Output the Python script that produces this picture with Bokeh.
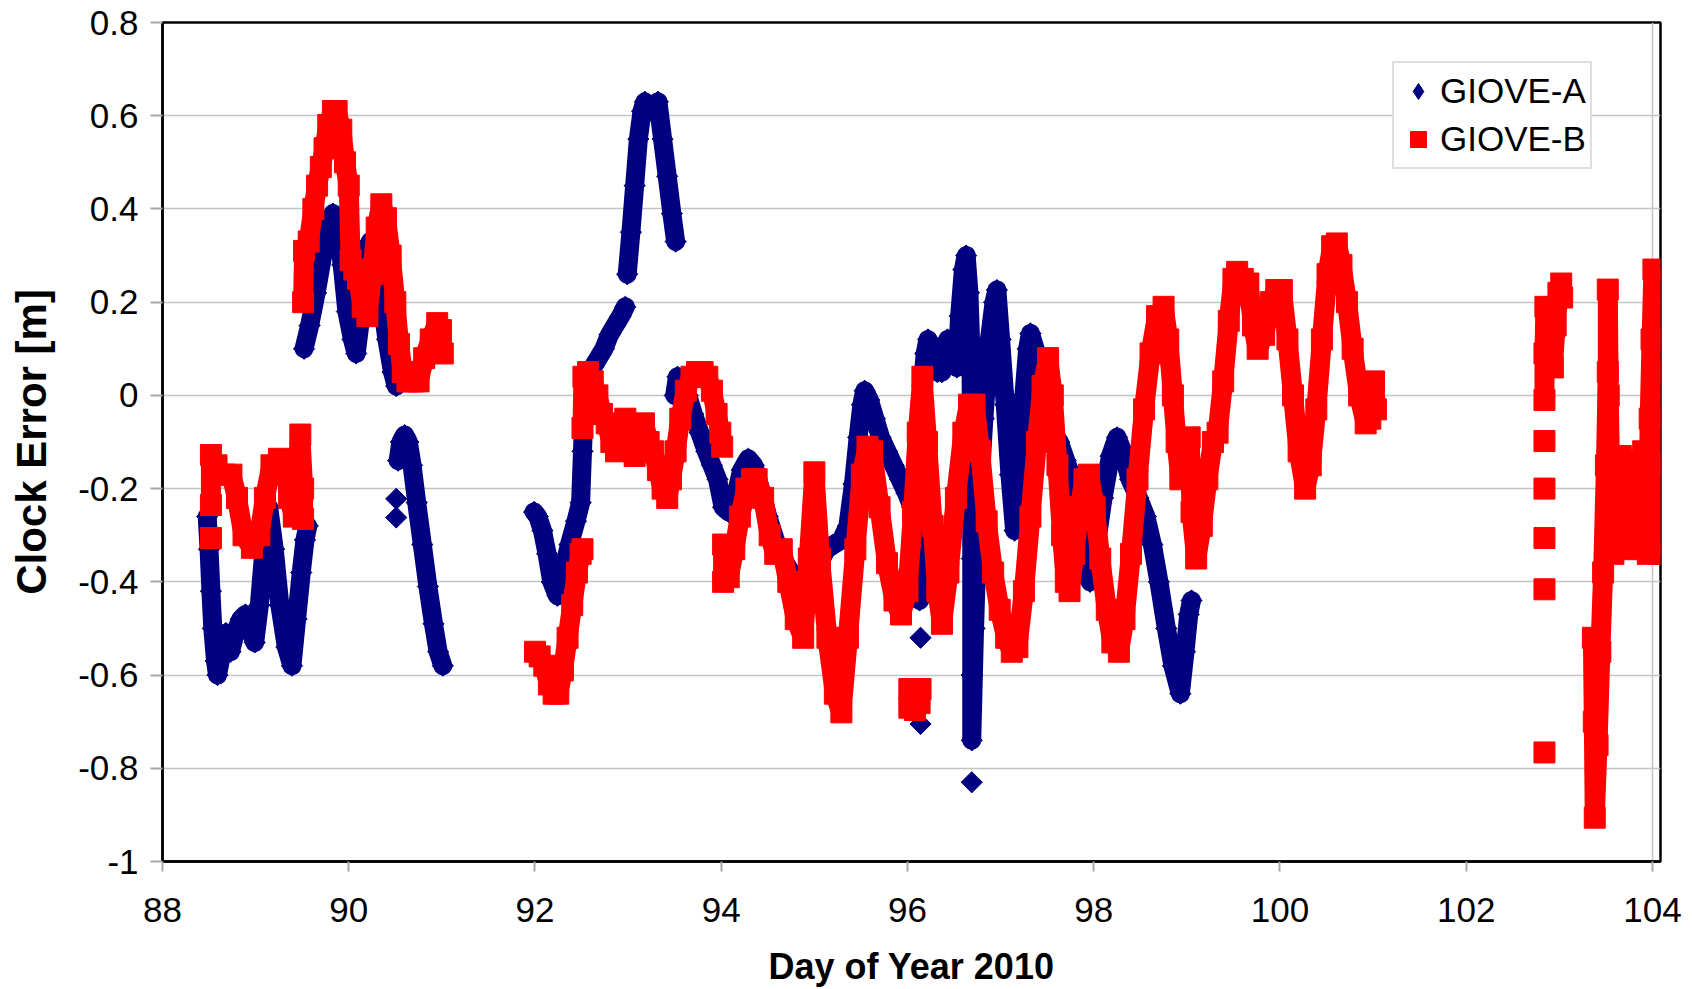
import numpy as np
from bokeh.plotting import figure
from bokeh.models import (ColumnDataSource, Range1d, FixedTicker, CustomJSTickFormatter,
                          Legend, LegendItem)
from bokeh.embed import file_html
from bokeh.resources import INLINE

FONT = "Liberation Sans"
NAVY = "#000080"
RED = "#ff0000"

# ---------------- axis ticks ----------------
X_TICKS = [88, 90, 92, 94, 96, 98, 100, 102, 104]
X_TICK_LABELS = ["88", "90", "92", "94", "96", "98", "100", "102", "104"]
Y_TICKS = [-1, -0.8, -0.6, -0.4, -0.2, 0, 0.2, 0.4, 0.6, 0.8]
Y_TICK_LABELS = ["-1", "-0.8", "-0.6", "-0.4", "-0.2", "0", "0.2", "0.4", "0.6", "0.8"]

# ---------------- GIOVE-A (day of year, clock error in m) ----------------
A1_DAY = [88.48, 88.50, 88.52, 88.54, 88.57, 88.59, 88.63, 88.68, 88.73, 88.78, 88.84, 88.89,
          88.94, 88.99, 89.04, 89.09, 89.14, 89.20, 89.26, 89.33, 89.39, 89.44, 89.49, 89.53, 89.56]
A1_ERR = [-0.26, -0.33, -0.42, -0.50, -0.57, -0.60, -0.56, -0.51, -0.55, -0.51, -0.48, -0.47,
          -0.50, -0.53, -0.45, -0.33, -0.24, -0.33, -0.45, -0.54, -0.58, -0.48, -0.38, -0.31, -0.28]

A2_DAY = [89.52, 89.58, 89.65, 89.72, 89.78, 89.83, 89.88, 89.93, 89.98, 90.04, 90.08, 90.13,
          90.18, 90.23, 90.29, 90.35, 90.41, 90.47, 90.51]
A2_ERR = [0.10, 0.15, 0.22, 0.30, 0.36, 0.39, 0.36, 0.28, 0.18, 0.12, 0.09, 0.17,
          0.30, 0.33, 0.29, 0.21, 0.12, 0.05, 0.02]

A3_DAY = [90.53, 90.56, 90.60, 90.64, 90.68, 90.73, 90.79, 90.85, 90.91, 90.96, 91.01]
A3_ERR = [-0.14, -0.10, -0.085, -0.10, -0.15, -0.23, -0.32, -0.41, -0.49, -0.55, -0.58]

A4_DAY = [91.99, 92.03, 92.08, 92.13, 92.18, 92.24, 92.30, 92.37, 92.44, 92.49, 92.51, 92.53,
          92.57, 92.62, 92.68, 92.74, 92.80, 92.86, 92.92, 92.97]
A4_ERR = [-0.25, -0.26, -0.29, -0.34, -0.40, -0.43, -0.38, -0.32, -0.27, -0.23, -0.12, -0.01,
          0.04, 0.06, 0.08, 0.10, 0.13, 0.15, 0.17, 0.19]

A5_DAY = [92.99, 93.03, 93.07, 93.11, 93.15, 93.18, 93.25, 93.32, 93.37, 93.42, 93.47, 93.51]
A5_ERR = [0.26, 0.35, 0.45, 0.55, 0.61, 0.63, 0.61, 0.63, 0.55, 0.47, 0.39, 0.33]

A6_DAY = [93.50, 93.53, 93.58, 93.64, 93.70, 93.77, 93.84, 93.90, 93.96, 94.02, 94.08, 94.15,
          94.22, 94.29, 94.35, 94.42, 94.50, 94.58, 94.66, 94.75, 94.83, 94.90, 94.97, 95.05,
          95.13, 95.21, 95.29, 95.36, 95.42, 95.47, 95.51, 95.54, 95.59, 95.65, 95.71, 95.78,
          95.85, 95.92, 95.99, 96.05, 96.09, 96.11, 96.13]
A6_ERR = [0.0, 0.04, 0.03, 0.0, -0.04, -0.08, -0.12, -0.15, -0.18, -0.24, -0.25, -0.22,
          -0.16, -0.136, -0.15, -0.20, -0.26, -0.31, -0.35, -0.38, -0.41, -0.42, -0.40, -0.36,
          -0.33, -0.32, -0.31, -0.28, -0.19, -0.09, -0.02, 0.01, -0.01, -0.05, -0.09, -0.12,
          -0.15, -0.18, -0.21, -0.24, -0.30, -0.37, -0.44]

A7_DAY = [96.13, 96.13, 96.14, 96.16, 96.19, 96.22, 96.27, 96.32, 96.37, 96.43, 96.48, 96.53,
          96.56, 96.60, 96.63, 96.66, 96.68, 96.69, 96.69, 96.69, 96.69, 96.72, 96.76, 96.82,
          96.88, 96.93, 96.96, 97.00, 97.05, 97.10, 97.15, 97.20, 97.25, 97.29, 97.32, 97.37,
          97.43, 97.49, 97.56, 97.63, 97.70, 97.77, 97.83, 97.90, 97.96, 98.02, 98.10, 98.18,
          98.25, 98.31, 98.39, 98.48, 98.56, 98.63, 98.70, 98.78, 98.85, 98.93, 98.98, 99.02, 99.05]
A7_ERR = [-0.40, -0.25, -0.10, 0.02, 0.09, 0.12, 0.10, 0.05, 0.05, 0.12, 0.09, 0.06,
          0.17, 0.27, 0.30, 0.22, 0.10, -0.10, -0.35, -0.60, -0.74, -0.50, -0.25, -0.05,
          0.12, 0.20, 0.226, 0.12, -0.02, -0.17, -0.29, -0.18, 0.0, 0.10, 0.133, 0.10,
          0.0, -0.06, -0.08, -0.10, -0.14, -0.18, -0.25, -0.35, -0.40, -0.33, -0.22, -0.13,
          -0.09, -0.12, -0.18, -0.22, -0.26, -0.32, -0.40, -0.50, -0.58, -0.64, -0.55, -0.47, -0.44]

A_SINGLE_DAY = [90.51, 90.51, 96.14, 96.14, 96.69]
A_SINGLE_ERR = [-0.222, -0.262, -0.52, -0.705, -0.83]

# ---------------- GIOVE-B ----------------
B1_DAY = [88.52, 88.52, 88.58, 88.66, 88.74, 88.80, 88.87, 88.96, 89.04, 89.10, 89.17, 89.25,
          89.32, 89.36, 89.41, 89.45, 89.48, 89.51, 89.51]
B1_ERR = [-0.235, -0.128, -0.15, -0.17, -0.17, -0.22, -0.30, -0.327, -0.30, -0.22, -0.15, -0.136,
          -0.14, -0.22, -0.26, -0.15, -0.084, -0.20, -0.265]

B2_DAY = [89.51, 89.52, 89.57, 89.62, 89.66, 89.70, 89.74, 89.78, 89.83, 89.87, 89.92, 89.96,
          90.00, 90.02, 90.06, 90.10, 90.15, 90.20, 90.25, 90.30, 90.35, 90.40, 90.45, 90.50,
          90.54, 90.58, 90.63, 90.69, 90.75, 90.81, 90.88, 90.95, 90.99, 91.01]
B2_ERR = [0.20, 0.31, 0.33, 0.40, 0.45, 0.49, 0.53, 0.58, 0.61, 0.61, 0.57, 0.50,
          0.45, 0.29, 0.27, 0.25, 0.19, 0.17, 0.26, 0.36, 0.41, 0.38, 0.30, 0.20,
          0.11, 0.05, 0.03, 0.03, 0.03, 0.08, 0.12, 0.155, 0.14, 0.09]

B3_DAY = [92.00, 92.05, 92.10, 92.15, 92.20, 92.25, 92.30, 92.35, 92.40, 92.45, 92.49, 92.51]
B3_ERR = [-0.55, -0.56, -0.58, -0.62, -0.64, -0.64, -0.59, -0.52, -0.45, -0.38, -0.34, -0.33]

B4_DAY = [92.51, 92.52, 92.57, 92.62, 92.67, 92.72, 92.77, 92.82, 92.87, 92.92, 92.97, 93.02,
          93.07, 93.12, 93.17, 93.22, 93.27, 93.32, 93.37, 93.42, 93.46, 93.51, 93.56, 93.62,
          93.68, 93.74, 93.80, 93.85, 93.90, 93.95, 93.99, 94.01]
B4_ERR = [-0.07, 0.04, 0.05, 0.03, 0.0, -0.04, -0.06, -0.10, -0.12, -0.08, -0.05, -0.09,
          -0.13, -0.09, -0.06, -0.10, -0.12, -0.16, -0.20, -0.22, -0.18, -0.12, -0.05, 0.01,
          0.04, 0.05, 0.05, 0.04, 0.01, -0.04, -0.08, -0.11]

B5_DAY = [94.02, 94.02, 94.08, 94.14, 94.20, 94.27, 94.33, 94.38, 94.45, 94.52, 94.58, 94.65,
          94.72, 94.80, 94.88, 94.94, 95.00, 95.06, 95.14, 95.22, 95.29, 95.36, 95.44, 95.51,
          95.57, 95.62, 95.70, 95.78, 95.86, 95.93, 96.00, 96.06, 96.11, 96.16, 96.21, 96.27,
          96.32, 96.37, 96.44, 96.52, 96.60, 96.66, 96.72, 96.78, 96.85, 96.92, 96.99, 97.06,
          97.12, 97.18, 97.25, 97.32, 97.39, 97.45, 97.51, 97.56, 97.61, 97.66, 97.70, 97.74,
          97.79, 97.85, 97.90, 97.95, 98.01, 98.07, 98.14, 98.20, 98.27, 98.33, 98.40, 98.47,
          98.54, 98.61, 98.68, 98.75, 98.80, 98.85, 98.89, 98.93, 98.98, 99.03, 99.05, 99.10,
          99.16, 99.22, 99.28, 99.33, 99.39, 99.45, 99.50, 99.54, 99.60, 99.66, 99.71, 99.76,
          99.83, 99.90, 99.96, 100.02, 100.08, 100.14, 100.20, 100.27, 100.33, 100.39, 100.45,
          100.51, 100.56, 100.61, 100.66, 100.72, 100.78, 100.85, 100.92, 100.97, 101.01, 101.03]
B5_ERR = [-0.32, -0.40, -0.39, -0.33, -0.26, -0.20, -0.18, -0.18, -0.22, -0.30, -0.34, -0.33,
          -0.40, -0.48, -0.52, -0.35, -0.165, -0.35, -0.52, -0.64, -0.68, -0.52, -0.33, -0.17,
          -0.11, -0.12, -0.24, -0.36, -0.44, -0.47, -0.42, -0.25, -0.08, 0.04, -0.10, -0.28,
          -0.42, -0.49, -0.38, -0.22, -0.08, -0.02, -0.02, -0.12, -0.27, -0.38, -0.46, -0.52,
          -0.55, -0.54, -0.42, -0.26, -0.10, 0.02, 0.08, 0.0, -0.15, -0.30, -0.40, -0.42,
          -0.34, -0.24, -0.18, -0.17, -0.24, -0.35, -0.46, -0.53, -0.55, -0.48, -0.34, -0.18,
          -0.03, 0.09, 0.17, 0.19, 0.12, 0.0, -0.10, -0.18, -0.12, -0.09, -0.25, -0.35,
          -0.28, -0.18, -0.10, -0.08, 0.03, 0.16, 0.25, 0.265, 0.25, 0.24, 0.15, 0.10,
          0.13, 0.20, 0.226, 0.226, 0.12, 0.0, -0.12, -0.20, -0.15, -0.03, 0.12,
          0.26, 0.32, 0.326, 0.28, 0.20, 0.10, 0.0, -0.06, -0.05, 0.03, -0.03]

B6_DAY = [96.02, 96.02, 96.08, 96.13, 96.14, 96.08]
B6_ERR = [-0.63, -0.67, -0.675, -0.66, -0.63, -0.63]

B7_DAY = [102.84, 102.84, 102.85, 102.89, 102.93, 102.96, 102.99, 103.02, 103.03]
B7_ERR = [-0.01, 0.09, 0.19, 0.09, 0.06, 0.15, 0.22, 0.24, 0.21]

B8_DAY = [103.36, 103.37, 103.38, 103.41, 103.44, 103.47, 103.50, 103.52, 103.52, 103.53,
          103.55, 103.58, 103.62, 103.66, 103.70, 103.74, 103.78, 103.82, 103.86, 103.90,
          103.93, 103.95, 103.97, 103.99, 104.01, 104.03, 104.05, 104.07]
B8_ERR = [-0.52, -0.70, -0.906, -0.75, -0.55, -0.38, -0.15, 0.05, 0.227, 0.0,
          -0.22, -0.34, -0.26, -0.13, -0.14, -0.24, -0.33, -0.26, -0.16, -0.12,
          -0.24, -0.34, -0.05, 0.12, 0.27, 0.05, -0.15, -0.34]

B_SINGLE_DAY = [88.52, 102.84, 102.84, 102.84, 102.84, 102.84]
B_SINGLE_ERR = [-0.306, -0.098, -0.20, -0.306, -0.416, -0.766]

A_SEGMENTS = [(A1_DAY, A1_ERR), (A2_DAY, A2_ERR), (A3_DAY, A3_ERR), (A4_DAY, A4_ERR),
              (A5_DAY, A5_ERR), (A6_DAY, A6_ERR), (A7_DAY, A7_ERR)]
B_SEGMENTS = [(B1_DAY, B1_ERR), (B2_DAY, B2_ERR), (B3_DAY, B3_ERR), (B4_DAY, B4_ERR),
              (B5_DAY, B5_ERR), (B6_DAY, B6_ERR), (B7_DAY, B7_ERR), (B8_DAY, B8_ERR)]


def collect(segments, single_day, single_err):
    xs = [list(d) for d, _ in segments]
    ys = [list(e) for _, e in segments]
    px = [v for d, _ in segments for v in d] + list(single_day)
    py = [v for _, e in segments for v in e] + list(single_err)
    return (ColumnDataSource(dict(xs=xs, ys=ys)), ColumnDataSource(dict(x=px, y=py)))


a_lines, a_pts = collect(A_SEGMENTS, A_SINGLE_DAY, A_SINGLE_ERR)
b_lines, b_pts = collect(B_SEGMENTS, B_SINGLE_DAY, B_SINGLE_ERR)

p = figure(width=1692, height=989,
           x_range=Range1d(88, 104.086), y_range=Range1d(-1, 0.8),
           output_backend="svg", toolbar_location=None,
           min_border_left=162, min_border_right=32, min_border_top=22, min_border_bottom=128)
p.background_fill_color = "white"
p.border_fill_color = "white"
p.outline_line_color = "black"
p.outline_line_width = 2.5

# GIOVE-A
p.multi_line(xs="xs", ys="ys", source=a_lines, line_color=NAVY, line_width=19,
             line_join="round", line_cap="round")
a_r = p.scatter(x="x", y="y", source=a_pts, marker="diamond", size=20,
                fill_color=NAVY, line_color=NAVY)
p.scatter(x="x", y="y", source=a_pts, marker="square", angle=np.pi / 4, size=15,
          fill_color=NAVY, line_color=NAVY)

# GIOVE-B
p.multi_line(xs="xs", ys="ys", source=b_lines, line_color=RED, line_width=20,
             line_join="bevel", line_cap="butt")
b_r = p.scatter(x="x", y="y", source=b_pts, marker="square", size=21,
                fill_color=RED, line_color=RED)

# axes
p.xaxis.ticker = FixedTicker(ticks=X_TICKS)
p.yaxis.ticker = FixedTicker(ticks=Y_TICKS)
fmt_code = """
for (let i = 0; i < tick_values.length; i++) {
  if (Math.abs(tick_values[i] - tick) < 1e-6) { return tick_texts[i]; }
}
return "";
"""
p.xaxis.formatter = CustomJSTickFormatter(args=dict(tick_values=X_TICKS, tick_texts=X_TICK_LABELS),
                                          code=fmt_code)
p.yaxis.formatter = CustomJSTickFormatter(args=dict(tick_values=Y_TICKS, tick_texts=Y_TICK_LABELS),
                                          code=fmt_code)

for ax in (p.xaxis[0], p.yaxis[0]):
    ax.major_label_text_font = FONT
    ax.major_label_text_font_size = "35px"
    ax.major_label_text_color = "black"
    ax.axis_label_text_font = FONT
    ax.axis_label_text_font_style = "bold"
    ax.axis_label_text_color = "black"
    ax.major_tick_in = 0
    ax.major_tick_line_color = "#a8a8a8"
    ax.major_tick_line_width = 2
    ax.minor_tick_line_color = None
    ax.axis_line_color = "black"
    ax.axis_line_width = 2.5

p.xaxis.axis_label = "Day of Year 2010"
p.xaxis.axis_label_text_font_size = "36px"
p.xaxis.major_tick_out = 10
p.xaxis.major_label_standoff = 26
p.xaxis.axis_label_standoff = 21

p.yaxis.axis_label = "Clock Error [m]"
p.yaxis.axis_label_text_font_size = "42px"
p.yaxis.major_tick_out = 12
p.yaxis.major_label_standoff = 12
p.yaxis.axis_label_standoff = 20

p.ygrid.ticker = FixedTicker(ticks=Y_TICKS)
p.ygrid.grid_line_color = "#c4c4c4"
p.ygrid.grid_line_width = 1.5
p.xgrid.ticker = FixedTicker(ticks=[X_TICKS[-1]])
p.xgrid.grid_line_color = "#c4c4c4"
p.xgrid.grid_line_width = 1.5

legend = Legend(items=[LegendItem(label="GIOVE-A", renderers=[a_r]),
                       LegendItem(label="GIOVE-B", renderers=[b_r])],
                location=(1230, 692), orientation="vertical",
                border_line_color="#bdbdbd", border_line_width=2,
                background_fill_color="white", background_fill_alpha=1.0,
                padding=4, spacing=0, margin=0,
                glyph_width=40, glyph_height=48, label_height=48, label_standoff=2,
                label_text_font=FONT, label_text_font_size="35px", label_text_color="black")
p.add_layout(legend)

open("out.html", "w").write(file_html(p, INLINE))
